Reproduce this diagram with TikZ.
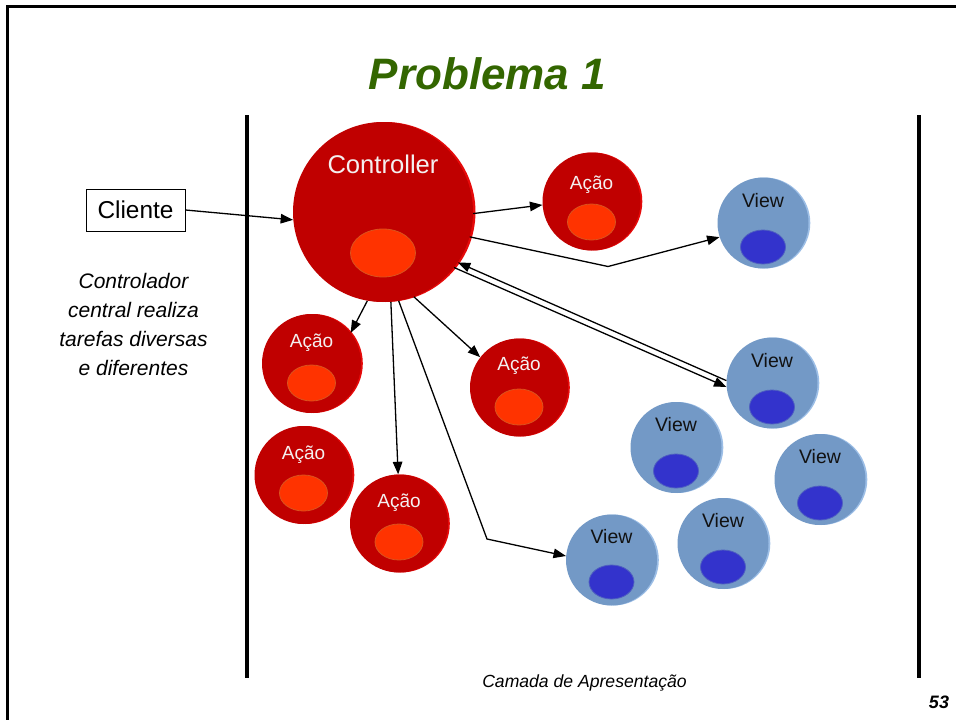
\documentclass[tikz,border=0pt]{standalone}
\usepackage{fontspec}
\setmainfont{Liberation Sans}
\usetikzlibrary{arrows.meta}
\definecolor{ballred}{HTML}{C00000}
\definecolor{redrim}{HTML}{E60A0A}
\definecolor{bloborange}{HTML}{FF3300}
\definecolor{blobedge}{HTML}{D9541E}
\definecolor{ballblue}{HTML}{7399C6}
\definecolor{bluerim}{HTML}{9CBEE6}
\definecolor{blobblue}{HTML}{3333CC}
\definecolor{blobblueedge}{HTML}{4F5FC0}
\definecolor{titlegreen}{HTML}{336600}
\definecolor{pinkwhite}{HTML}{F4F0F0}
\definecolor{viewtext}{HTML}{111111}

\newcommand\acaocell[6]{%
  \fill[redrim] (#2+1.8,#3) circle (#4);
  \node[redball, minimum size=2*#4pt] (#1) at (#2,#3) {};
  \draw[orangeblob] (#2,#6) ellipse (24 and 18);
  \node[redlabel] (#1t) at (#2,#5) {Ação};
}
\newcommand\viewcell[5]{%
  \fill[bluerim] (#2+1.8,#3) circle (45.5);
  \node[blueball] (#1) at (#2,#3) {};
  \draw[blueblob] (#2,#5) ellipse (22.5 and 17);
  \node[viewlabel] (#1t) at (#2,#4) {View};
}

\begin{document}
\begin{tikzpicture}[x=1pt,y=-1pt,
  conn/.style={line width=1.3pt, -{Triangle[length=12.5pt,width=9.5pt]}},
  redball/.style={circle, fill=ballred, inner sep=0pt},
  blueball/.style={circle, fill=ballblue, inner sep=0pt, minimum size=91pt},
  orangeblob/.style={fill=bloborange, draw=blobedge, line width=0.8pt},
  blueblob/.style={fill=blobblue, draw=blobblueedge, line width=0.8pt},
  redlabel/.style={anchor=base, text=pinkwhite, font=\fontsize{19}{22}\selectfont, inner sep=0pt},
  viewlabel/.style={anchor=base, text=viewtext, font=\fontsize{19.5}{22}\selectfont, inner sep=0pt},
  vbar/.style={line width=4pt}
]
\useasboundingbox (0,0) rectangle (956,720);
\fill[white] (0,0) rectangle (956,720);

% frame (top and left edges)
\draw[line width=2.6pt] (7.5,720) -- (7.5,6.5) -- (956,6.5);

% title
\node[anchor=base, text=titlegreen, font=\fontsize{44}{50}\selectfont\bfseries\itshape, inner sep=0pt] (title) at (487.5,89) {Problema 1};

% layer boundaries
\draw[vbar] (247,115) coordinate (lbartop) -- (247,678) coordinate (lbarbot);
\draw[vbar] (919,115) coordinate (rbartop) -- (919,678) coordinate (rbarbot);

% client
\node[draw, line width=1pt, minimum width=99pt, minimum height=42pt, inner sep=0pt,
      font=\fontsize{24.4}{28}\selectfont] (cliente) at (135.5,210) {Cliente};

% side note
\node[align=center, font=\fontsize{21}{29}\selectfont\itshape, inner sep=0pt] (note) at (133.5,324.5)
  {Controlador\\central realiza\\tarefas diversas\\e diferentes};

% controller
\fill[redrim] (385.5,212) circle (90);
\node[redball, minimum size=180pt] (ctrl) at (383,212) {};
\draw[orangeblob] (383,253) ellipse (32.5 and 24);
\node[anchor=base, text=pinkwhite, font=\fontsize{25.6}{30}\selectfont, inner sep=0pt] (ctrlt) at (383,173) {Controller};

% actions
\acaocell{acaoT}{591.5}{201.5}{49}{189}{222}
\acaocell{acaoL1}{311.5}{363.5}{49.5}{347}{383}
\acaocell{acaoM}{519}{387.5}{49}{370}{407}
\acaocell{acaoL2}{303.5}{475}{49}{459}{493}
\acaocell{acaoL3}{399}{523.5}{49}{507}{542}

% views
\viewcell{viewT}{763}{223}{207.5}{247}
\viewcell{viewM}{772}{383}{367.5}{407}
\viewcell{viewA}{676}{447.5}{431}{471}
\viewcell{viewB}{820}{479.5}{463.5}{503}
\viewcell{viewC}{723}{543.5}{527}{567}
\viewcell{viewD}{611.5}{560}{543}{582}

% bend points
\coordinate (bendA) at (608,266.5);
\coordinate (bendB) at (487,539);

% connectors
\draw[conn] (cliente.east) -- (ctrl.185);
\draw[conn] (ctrl.-1) -- (acaoT.184);
\draw[conn] (ctrl.-16) -- (bendA) -- (viewT.198);
\draw[conn] (viewM.177) -- (ctrl.-34);
\draw[conn] (ctrl.-38) -- (viewM.185);
\draw[conn] (ctrl.-100) -- (acaoL1.38);
\draw[conn] (ctrl.-85) -- (acaoL3.91);
\draw[conn] (ctrl.-70) -- (acaoM.142);
\draw[conn] (ctrl.-80) -- (bendB) -- (viewD.175);

% footer
\node[anchor=base, font=\fontsize{17.6}{20}\selectfont\itshape, inner sep=0pt] (layer) at (584.5,687) {Camada de Apresentação};
\node[anchor=base, font=\fontsize{18}{20}\selectfont\bfseries\itshape, inner sep=0pt] (page) at (939,708) {53};
\end{tikzpicture}
\end{document}
